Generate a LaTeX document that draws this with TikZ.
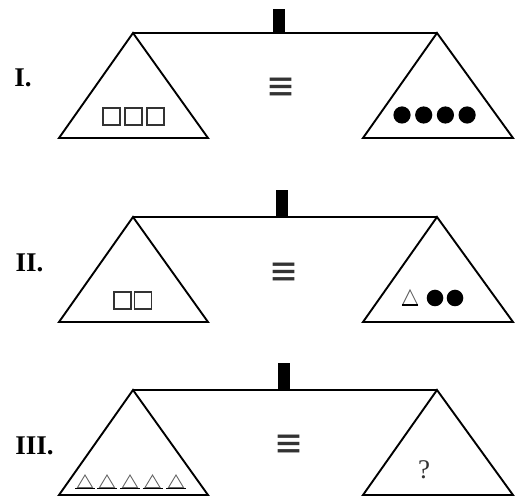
\documentclass[tikz,border=0pt]{standalone}
\usepackage{fontspec}
\setmainfont{Liberation Serif}
\newfontfamily\symfont{DejaVu Sans}
\begin{document}
\begin{tikzpicture}[x=1pt,y=-1pt,
  pan/.style={line width=1.9pt, line join=miter},
  beam/.style={line width=2pt},
  post/.style={fill=black, draw=none},
  sq/.style={draw=black!80, line width=1.4pt},
  dot/.style={fill=black},
  tri/.style={draw=black!60, line width=0.9pt},
  triline/.style={line width=1.8pt},
  lab/.style={font=\fontsize{27}{27}\selectfont\bfseries, inner sep=0pt},
  eqv/.style={inner sep=0pt, font=\fontsize{21}{21}\selectfont\symfont, text=black!80},
  qm/.style={inner sep=0pt, font=\fontsize{27}{27}\selectfont, text=black!80}]
\useasboundingbox (0,0) rectangle (517,502);
\foreach \by/\bb/\px/\pt/\n in {33/138/273/9/a, 217/322/276/190/b, 390/495/278/363/c}{
  \coordinate (L\n) at (133,\by);
  \coordinate (R\n) at (437,\by);
  \fill[post] (\px,\pt) rectangle (\px+12,\by);
  \draw[beam] (L\n) -- (R\n);
  \draw[pan] (L\n) -- (59,\bb) -- (208,\bb) -- cycle;
  \draw[pan] (R\n) -- (363,\bb) -- (513,\bb) -- cycle;
}
% Panel I
\node[lab] (l1) at (23,78) {I.};
\node[eqv] (e1) at (281,89) {\scalebox{1.65}[1.9]{≡}};
\foreach \cx in {111.5,133.5,155.5}
  \draw[sq] (\cx-8.5,108) rectangle (\cx+8.5,125);
\foreach \k in {0,1,2,3}
  \fill[dot] (402+21.7*\k,115) circle[radius=8.6pt];
% Panel II
\node[lab] (l2) at (29.5,263) {II.};
\node[eqv] (e2) at (284,274) {\scalebox{1.65}[1.9]{≡}};
\foreach \cx in {122.5,143}
  \draw[sq] (\cx-8.5,292) rectangle (\cx+8.5,309);
\draw[tri] (410,290) -- (402.5,305) -- (417.5,305) -- cycle;
\draw[triline] (402,305) -- (418,305);
\foreach \cx in {435,455}
  \fill[dot] (\cx,298) circle[radius=8.3pt];
% Panel III
\node[lab] (l3) at (34.5,446) {III.};
\node[eqv] (e3) at (289,446) {\scalebox{1.65}[1.9]{≡}};
\foreach \cx in {85,107,130,152.5,176}{
  \draw[tri] (\cx,475) -- (\cx-7.5,487.5) -- (\cx+7.5,487.5) -- cycle;
  \draw[triline] (\cx-10,488.5) -- (\cx+10,488.5);
}
\node[qm] (q) at (424,470) {?};
\end{tikzpicture}
\end{document}
